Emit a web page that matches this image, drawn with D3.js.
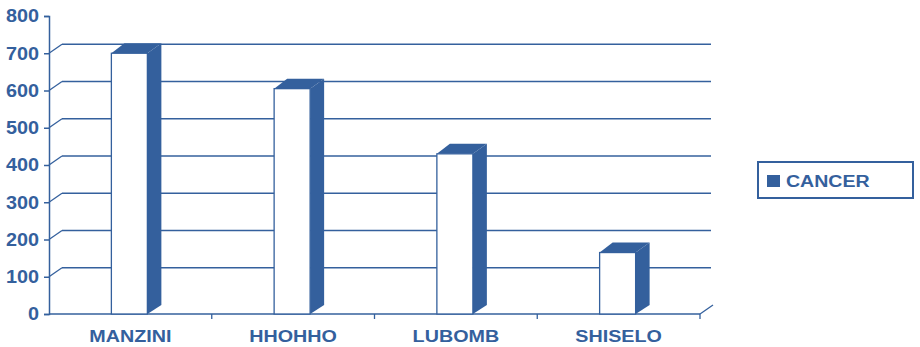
<!DOCTYPE html>
<html><head><meta charset="utf-8">
<script src="https://cdn.jsdelivr.net/npm/d3@7"></script>
<style>body{margin:0;background:#fff}svg{display:block}text{font-family:"Liberation Sans",Arial,sans-serif;font-weight:bold;fill:#34609d}</style>
</head><body><svg id="c" width="920" height="347"></svg>
<script>
const categories = ["MANZINI","HHOHHO","LUBOMB","SHISELO"];
const cancer = [700, 605, 430, 165];
const yTicks = [0,100,200,300,400,500,600,700,800];
const seriesName = "CANCER";

const col = "#34609d";
const svg = d3.select("#c");
const x0 = 49, x1 = 700, yb = 314, yt = 16;
const dx = 13, dy = -9;
const x = d3.scaleBand().domain(categories).range([x0, x1]);
const y = d3.scaleLinear().domain([0, 800]).range([yb, yt]);

// back wall gridlines
const g = svg.append("g");
yTicks.filter(v => v > 0 && v < 800).forEach(v => {
  g.append("line").attr("x1", x0 + dx).attr("x2", x1 + dx - 2).attr("y1", y(v) + dy).attr("y2", y(v) + dy)
    .attr("stroke", col).attr("stroke-width", 1.3);
  g.append("line").attr("x1", x0).attr("x2", x0 + dx).attr("y1", y(v)).attr("y2", y(v) + dy)
    .attr("stroke", col).attr("stroke-width", 1.3);
});

// value axis
const sxT = 1.1;
const ax = svg.append("g").attr("transform", `translate(${x0},0)`)
  .call(d3.axisLeft(y).tickValues(yTicks).tickSize(5).tickPadding(5));
ax.select(".domain").attr("stroke", col).attr("stroke-width", 1.5);
ax.selectAll(".tick line").attr("stroke", col).attr("stroke-width", 1.5);
ax.selectAll("text").style("font-size", "18px").attr("fill", col)
  .attr("x", -10 / sxT).attr("transform", `scale(${sxT},1)`);

// floor front edge
svg.append("line").attr("x1", x0).attr("x2", x1).attr("y1", yb).attr("y2", yb).attr("stroke", col).attr("stroke-width", 1.5);
svg.append("line").attr("x1", x1).attr("x2", x1 + dx).attr("y1", yb).attr("y2", yb + dy).attr("stroke", col).attr("stroke-width", 1.3);
// category ticks
categories.forEach(c => {
  const xe = x(c) + x.bandwidth();
  svg.append("line").attr("x1", xe).attr("x2", xe).attr("y1", yb).attr("y2", yb + 5).attr("stroke", col).attr("stroke-width", 1.3);
});

// bars
const bw = 36;
const bars = svg.append("g");
categories.forEach((c, i) => {
  const cx = x(c) + x.bandwidth() / 2 - 1;
  const l = cx - bw / 2, r = cx + bw / 2, t = y(cancer[i]);
  bars.append("path").attr("d", `M${r},${t}L${r+dx+1},${t+dy-1}L${r+dx+1},${yb+dy}L${r},${yb}Z`).attr("fill", col);
  bars.append("path").attr("d", `M${l},${t}L${l+dx},${t+dy-1}L${r+dx+1},${t+dy-1}L${r},${t}Z`).attr("fill", col);
  bars.append("rect").attr("x", l).attr("y", t).attr("width", r - l).attr("height", yb - t)
    .attr("fill", "#fff").attr("stroke", col).attr("stroke-width", 1.3);
});

// category labels
const sxC = 1.16;
svg.append("g").selectAll("text").data(categories).join("text")
  .attr("transform", d => `translate(${x(d) + x.bandwidth() / 2},342) scale(${sxC},1)`)
  .attr("text-anchor", "middle").style("font-size", "17px").text(d => d);

// legend
const lg = svg.append("g");
lg.append("rect").attr("x", 758).attr("y", 162).attr("width", 155).attr("height", 36)
  .attr("fill", "#fff").attr("stroke", col).attr("stroke-width", 2);
lg.append("rect").attr("x", 767).attr("y", 175).attr("width", 13).attr("height", 12).attr("fill", col);
lg.append("text").attr("transform", `translate(786,187) scale(1.15,1)`).style("font-size", "17px").text(seriesName);
</script></body></html>
